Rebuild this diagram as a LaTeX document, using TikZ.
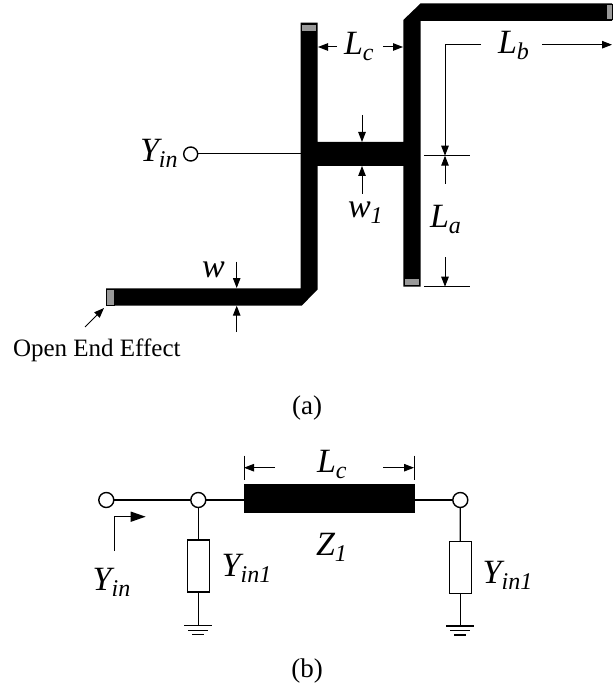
\documentclass[tikz,border=0pt]{standalone}
\usepackage{fontspec}
\usepackage{tikz}
\usetikzlibrary{arrows.meta}
\setmainfont{Liberation Serif}

\tikzset{
    every node/.style={inner sep=0pt, outer sep=0pt},
    strip/.style={fill=black, draw=none},
    openend/.style={fill=gray!80, draw=black, line width=0.5pt},
    dimline/.style={-{Triangle[length=10pt,width=7.5pt]}, line width=1pt},
    thinline/.style={line width=1pt},
    wire/.style={line width=1.4pt},
    port/.style={draw, circle, fill=white, minimum size=15pt, line width=1.4pt},
    load/.style={draw, rectangle, fill=white, minimum width=22pt, minimum height=52pt, line width=1.4pt},
    sym/.style={anchor=base west, font=\fontsize{34}{34}\selectfont\itshape},
    captext/.style={anchor=base, font=\fontsize{27}{27}\selectfont},
}
\newcommand{\subs}[1]{\raisebox{-6pt}{\fontsize{24}{24}\selectfont #1}}

\begin{document}
\begin{tikzpicture}[x=1pt, y=-1pt]
    \useasboundingbox (0,0) rectangle (612,700);

    % microstrip layout
    \fill[strip] (300.7,22.7) -- (317.7,22.7) -- (317.7,142) -- (403.3,142) -- (403.3,20)
        -- (420.7,3.3) -- (612,3.3) -- (612,21) -- (420.7,21) -- (420.7,286.7) -- (403.3,286.7)
        -- (403.3,166) -- (317.7,166) -- (317.7,289.3) -- (301.7,305.7) -- (106,305.7)
        -- (106,288.3) -- (300.7,288.3) -- cycle;
    \node[openend, minimum width=15pt, minimum height=7pt] (capa) at (309.2,27.5) {};
    \node[openend, minimum width=15pt, minimum height=7pt] (capb) at (412,282) {};
    \node[openend, minimum width=8pt, minimum height=16pt] (capc) at (110.5,297) {};
    \node[openend, minimum width=6pt, minimum height=15pt] (capd) at (609,12) {};

    % input port
    \node[port, minimum size=14pt] (pin) at (190.7,154) {};
    \coordinate (feed) at (300.7,154);
    \draw[thinline] (pin) -- (feed);
    \node[sym] (yin) at (140,162) {Y\subs{in}};

    % dimensions
    \coordinate (lcl) at (318,47);
    \coordinate (lcr) at (403,47);
    \coordinate (lcla) at (337,47);
    \coordinate (lcra) at (383,47);
    \draw[dimline] (lcla) -- (lcl);
    \draw[dimline] (lcra) -- (lcr);
    \node[sym] (lc) at (344,55) {L\subs{c}};

    \coordinate (lbs) at (481,44.7);
    \coordinate (lbc) at (445,44.7);
    \coordinate (lbe) at (445,155.7);
    \coordinate (lbr) at (542,44.7);
    \coordinate (lbf) at (612,44.7);
    \draw[dimline] (lbs) -- (lbc) -- (lbe);
    \draw[dimline] (lbr) -- (lbf);
    \node[sym] (lb) at (498,54) {L\subs{b}};

    \coordinate (tal) at (424,155.7);
    \coordinate (tar) at (470,155.7);
    \coordinate (tbl) at (424,286.7);
    \coordinate (tbr) at (470,286.7);
    \draw[thinline] (tal) -- (tar);
    \draw[thinline] (tbl) -- (tbr);
    \coordinate (laa) at (445,184);
    \coordinate (lab) at (445,155.7);
    \coordinate (lac) at (445,257);
    \coordinate (lad) at (445,286.7);
    \draw[dimline] (laa) -- (lab);
    \draw[dimline] (lac) -- (lad);
    \node[sym] (la) at (430,228) {L\subs{a}};

    \coordinate (woa) at (362,115);
    \coordinate (wob) at (362,142);
    \coordinate (woc) at (362,194);
    \coordinate (wod) at (362,166);
    \draw[dimline] (woa) -- (wob);
    \draw[dimline] (woc) -- (wod);
    \node[sym] (wone) at (348,218) {w\subs{1}};

    \coordinate (wa) at (236.7,261.7);
    \coordinate (wb) at (236.7,288);
    \coordinate (wc) at (236.7,332);
    \coordinate (wd) at (236.7,305.7);
    \draw[dimline] (wa) -- (wb);
    \draw[dimline] (wc) -- (wd);
    \node[sym] (wlab) at (202,277) {w};

    \coordinate (oea) at (85,327);
    \coordinate (oeb) at (104,308);
    \draw[dimline] (oea) -- (oeb);
    \node[anchor=base west, font=\fontsize{25}{25}\selectfont] (oe) at (13,356.7) {Open End Effect};
    \node[captext] (capta) at (307,414) {(a)};

    % equivalent circuit
    \node[port] (pa) at (106.3,500) {};
    \node[port] (pb) at (198.3,500) {};
    \node[port] (pc) at (460.3,500) {};
    \node[fill=black, minimum width=171pt, minimum height=28.4pt] (line) at (329,498.5) {};
    \draw[wire] (pa) -- (pb);
    \draw[wire] (pb) -- (pb -| line.west);
    \draw[wire] (pc -| line.east) -- (pc);

    \node[load] (ya) at (198.3,565.8) {};
    \node[load] (yb) at (460.2,567.5) {};
    \coordinate (ga) at (198.3,625.7);
    \coordinate (gb) at (460.2,626);
    \draw[wire] (pb) -- (ya);
    \draw[wire] (ya) -- (ga);
    \draw[wire] (pc) -- (yb);
    \draw[wire] (yb) -- (gb);
    \foreach \g in {ga,gb} {
        \draw[wire] ([xshift=-14pt]\g) -- ([xshift=14pt]\g);
        \draw[wire] ([xshift=-10pt,yshift=-4.5pt]\g) -- ([xshift=10pt,yshift=-4.5pt]\g);
        \draw[wire] ([xshift=-6pt,yshift=-9pt]\g) -- ([xshift=6pt,yshift=-9pt]\g);
    }

    \coordinate (ina) at (114.3,551);
    \coordinate (inb) at (114.3,516.7);
    \coordinate (inc) at (145.7,516.7);
    \draw[wire, -{Triangle[length=15pt,width=10pt]}] (ina) -- (inb) -- (inc);

    \coordinate (lcbl) at (244,467.7);
    \coordinate (lcbr) at (414,467.7);
    \coordinate (lcbla) at (275,467.7);
    \coordinate (lcbra) at (383,467.7);
    \draw[dimline] (lcbla) -- (lcbl);
    \draw[dimline] (lcbra) -- (lcbr);
    \draw[thinline] ([yshift=12pt]lcbl) -- ([yshift=-12pt]lcbl);
    \draw[thinline] ([yshift=12pt]lcbr) -- ([yshift=-12pt]lcbr);
    \node[sym] (lcb) at (317,472) {L\subs{c}};

    \node[sym] (yinb) at (92.7,590) {Y\subs{in}};
    \node[sym] (yla) at (221.7,576.7) {Y\subs{in1}};
    \node[sym] (ylb) at (482.7,583) {Y\subs{in1}};
    \node[sym] (zone) at (316,555) {Z\subs{1}};
    \node[captext] (captb) at (307,677) {(b)};
\end{tikzpicture}
\end{document}
